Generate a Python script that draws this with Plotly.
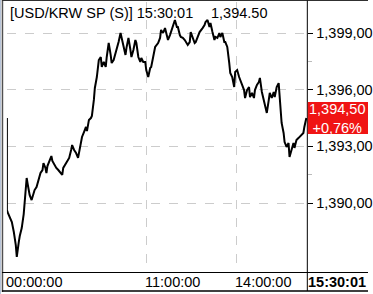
import plotly.graph_objects as go

# ---- data (tick number, price) ----
tick = [0, 0, 1, 3, 5, 7, 8, 9, 10, 11, 12, 13, 15, 17, 18, 19, 20, 21, 22, 23, 25, 26, 28, 30, 31,
        32, 34, 36, 37, 39, 40, 41, 43, 45, 46, 48, 50, 52, 54, 56, 57, 59, 60, 61, 63, 65, 66, 68, 70,
        72, 73, 75, 76, 78, 80, 81, 83, 85, 86, 88, 89, 91, 92, 93, 95, 96, 98, 100, 101, 103, 105, 106,
        108, 110, 111, 113, 115, 116, 118, 120, 121, 123, 125, 126, 128, 130, 131, 133, 135, 136, 138,
        140, 141, 143, 145, 146, 148, 150, 153, 155, 156, 158, 160, 162, 163, 165, 166, 168, 170, 172,
        173, 175, 176, 178, 180, 183, 185, 186, 188, 190, 191, 193, 195, 198, 200, 201, 203, 205, 206,
        208, 210, 211, 213, 215, 216, 218, 220, 221, 223, 225, 226, 228, 230, 231, 233, 235, 236, 238,
        240, 241, 243, 245, 246, 248, 250, 251, 253, 255, 256, 258, 260, 261, 263, 265, 266, 268, 270,
        271, 273, 275, 276, 278, 280, 281, 283, 285, 286, 288, 290, 291, 293, 295, 296, 298, 300, 301,
        303]
price = [1394.50, 1389.63, 1389.48, 1389.26, 1389.00, 1388.47, 1388.15, 1387.78, 1387.15, 1387.73,
         1387.94, 1388.26, 1388.68, 1389.42, 1390.16, 1390.69, 1391.33, 1391.01, 1390.69, 1390.43,
         1390.16, 1390.32, 1390.69, 1390.85, 1391.06, 1391.28, 1391.59, 1391.75, 1392.12, 1391.86,
         1391.59, 1391.96, 1392.28, 1392.49, 1392.23, 1392.02, 1391.86, 1391.75, 1391.59, 1391.49,
         1391.86, 1392.02, 1392.12, 1392.17, 1392.39, 1392.81, 1393.07, 1392.81, 1392.65, 1392.39,
         1392.70, 1393.23, 1393.50, 1393.76, 1394.03, 1393.81, 1394.40, 1394.50, 1394.61, 1395.46,
         1396.09, 1396.67, 1397.04, 1397.57, 1397.73, 1397.20, 1397.47, 1397.20, 1397.73, 1398.47,
         1397.84, 1397.41, 1397.57, 1397.94, 1398.10, 1398.52, 1399.00, 1398.74, 1398.21, 1397.84,
         1398.21, 1398.74, 1398.10, 1397.73, 1398.10, 1398.63, 1398.47, 1397.73, 1397.47, 1397.68,
         1397.47, 1397.47, 1397.04, 1396.67, 1397.15, 1397.20, 1397.73, 1398.26, 1398.47, 1398.74,
         1399.16, 1399.00, 1399.26, 1398.74, 1398.63, 1398.89, 1399.05, 1399.42, 1399.69, 1399.32,
         1399.32, 1398.89, 1398.79, 1398.74, 1398.63, 1398.37, 1398.52, 1399.05, 1398.79, 1398.47,
         1398.52, 1398.79, 1399.05, 1399.26, 1399.42, 1399.58, 1399.69, 1399.32, 1399.53, 1399.05,
         1398.63, 1398.79, 1398.74, 1399.00, 1398.79, 1399.00, 1398.52, 1398.52, 1398.26, 1397.41,
         1396.88, 1396.67, 1396.14, 1396.94, 1397.04, 1396.67, 1396.51, 1396.25, 1395.98, 1395.56,
         1395.98, 1396.14, 1395.61, 1395.83, 1395.56, 1395.98, 1396.25, 1396.41, 1396.62, 1395.88,
         1395.46, 1395.19, 1394.77, 1395.46, 1395.83, 1395.56, 1395.88, 1395.61, 1396.14, 1396.35,
         1395.56, 1394.24, 1393.71, 1393.23, 1392.97, 1393.18, 1392.44, 1392.81, 1393.18, 1392.92,
         1393.34, 1393.44, 1393.50, 1393.60, 1393.71, 1394.03, 1394.50]

y_ticks = [1390, 1393, 1396, 1399]
y_tick_text = ["1,390,00", "1,393,00", "1,396,00", "1,399,00"]
y_minor = [1391.5, 1394.5, 1397.5]
x_ticks = [0, 141, 232]
x_tick_text = ["00:00:00", "11:00:00", "14:00:00"]
title_left = "[USD/KRW SP (S)] 15:30:01"
title_price = "1,394.50"
last_label = "1,394,50<br>+0,76%"
last_time = "15:30:01"
last_price = price[-1]

W, H = 373, 294
FONT = "Liberation Sans, Arial, sans-serif"
FS = 14.5

def px(x):
    return x / W

def py(y):
    return 1 - y / H

fig = go.Figure()
fig.add_trace(go.Scatter(x=tick, y=price, mode="lines",
                         line=dict(color="black", width=2), hoverinfo="skip"))

y_lo, y_hi = 1386.354, 1400.640
fig.update_layout(
    width=W, height=H, margin=dict(l=0, r=0, t=0, b=0),
    paper_bgcolor="white", plot_bgcolor="white", showlegend=False,
    font=dict(family=FONT, size=FS, color="black"),
    xaxis=dict(domain=[px(7), px(311.5)], range=[0, 304], showticklabels=False,
               tickvals=[141, 232], showgrid=True, gridcolor="#cccccc", griddash="dash",
               gridwidth=1, zeroline=False, showline=False, ticks=""),
    yaxis=dict(domain=[py(272), py(2)], range=[y_lo, y_hi], side="right",
               tickvals=y_ticks, ticktext=y_tick_text, showgrid=True, gridcolor="#cccccc",
               griddash="dash", gridwidth=1, zeroline=False, showline=False,
               ticks="outside", ticklen=5, tickcolor="black", tickwidth=1,
               tickfont=dict(family=FONT, size=FS, color="black"),
               minor=dict(tickvals=y_minor, ticks="outside", ticklen=4,
                          tickcolor="#bbbbbb", showgrid=False)),
)

line = dict(color="black", width=1)
shapes = [
    # outer frame
    dict(type="line", xref="paper", yref="paper", x0=px(0.5), x1=px(0.5), y0=0, y1=1,
         line=dict(color="#b8c4d8", width=1)),
    dict(type="line", xref="paper", yref="paper", x0=px(2.5), x1=px(2.5), y0=py(292), y1=1,
         line=dict(color="#505050", width=1.5)),
    dict(type="line", xref="paper", yref="paper", x0=px(2), x1=1, y0=py(0.5), y1=py(0.5),
         line=dict(color="#303030", width=1)),
    # axis band lines
    dict(type="line", xref="paper", yref="paper", x0=px(2), x1=1, y0=py(272.5), y1=py(272.5), line=line),
    dict(type="line", xref="paper", yref="paper", x0=px(2), x1=1, y0=py(291), y1=py(291),
         line=dict(color="black", width=1.5)),
    dict(type="line", xref="paper", yref="paper", x0=px(311.5), x1=px(311.5), y0=py(291), y1=py(0.5), line=line),
    # last price box
    dict(type="rect", xref="paper", yref="y", x0=px(312), x1=1,
         y0=last_price - 16 / 18.9, y1=last_price + 16 / 18.9,
         fillcolor="#f01414", line=dict(width=0), layer="above"),
]
fig.update_layout(shapes=shapes)

ann = [
    dict(text=title_left, xref="paper", yref="paper", x=px(8), y=py(13), xanchor="left",
         yanchor="middle", showarrow=False, font=dict(family=FONT, size=FS, color="black")),
    dict(text=title_price, xref="paper", yref="paper", x=px(212), y=py(13), xanchor="left",
         yanchor="middle", showarrow=False, font=dict(family=FONT, size=FS, color="black")),
    dict(text=last_label, xref="paper", yref="y", x=px(342), y=last_price, xanchor="center",
         yanchor="middle", showarrow=False, align="center",
         font=dict(family=FONT, size=FS, color="white")),
    dict(text="<b>" + last_time + "</b>", xref="paper", yref="paper", x=px(342), y=py(282),
         xanchor="center", yanchor="middle", showarrow=False,
         font=dict(family=FONT, size=FS, color="black")),
]
for t, s in zip(x_ticks, x_tick_text):
    ann.append(dict(text=s, xref="x", yref="paper", x=t, y=py(282), xanchor="left",
                    yanchor="middle", showarrow=False, xshift=-3,
                    font=dict(family=FONT, size=FS, color="black")))
fig.update_layout(annotations=ann)

fig.write_html("out.html")
